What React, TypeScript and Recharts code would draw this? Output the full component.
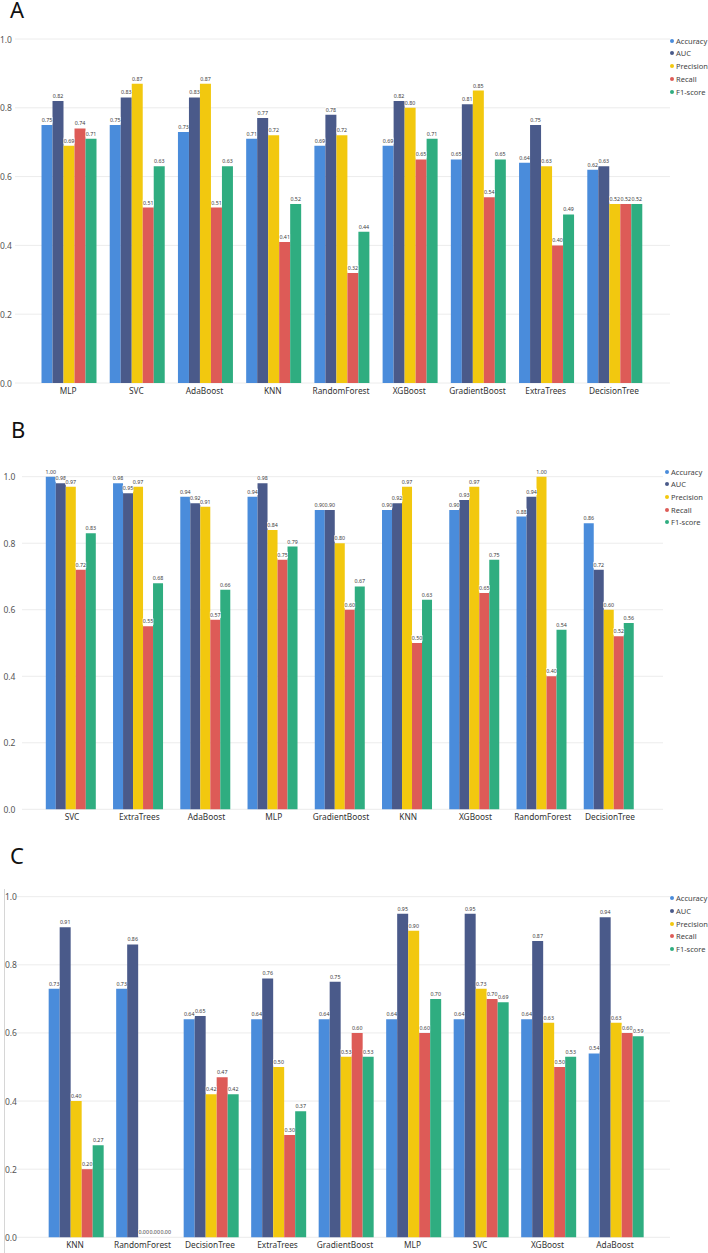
import React from 'react';
import { BarChart, Bar, XAxis, YAxis, CartesianGrid, LabelList } from 'recharts';

const metrics = ['Accuracy', 'AUC', 'Precision', 'Recall', 'F1-score'];
const metricColors = ['#4a8cdb', '#4a5a8a', '#f2c80f', '#dd5b57', '#2fad80'];
const yTicks = [0, 0.2, 0.4, 0.6, 0.8, 1];

// Panel A
const modelsA = ['MLP', 'SVC', 'AdaBoost', 'KNN', 'RandomForest', 'XGBoost', 'GradientBoost', 'ExtraTrees', 'DecisionTree'];
const accuracyA = [0.75, 0.75, 0.73, 0.71, 0.69, 0.69, 0.65, 0.64, 0.62];
const aucA = [0.82, 0.83, 0.83, 0.77, 0.78, 0.82, 0.81, 0.75, 0.63];
const precisionA = [0.69, 0.87, 0.87, 0.72, 0.72, 0.8, 0.85, 0.63, 0.52];
const recallA = [0.74, 0.51, 0.51, 0.41, 0.32, 0.65, 0.54, 0.4, 0.52];
const f1A = [0.71, 0.63, 0.63, 0.52, 0.44, 0.71, 0.65, 0.49, 0.52];

// Panel B
const modelsB = ['SVC', 'ExtraTrees', 'AdaBoost', 'MLP', 'GradientBoost', 'KNN', 'XGBoost', 'RandomForest', 'DecisionTree'];
const accuracyB = [1.0, 0.98, 0.94, 0.94, 0.9, 0.9, 0.9, 0.88, 0.86];
const aucB = [0.98, 0.95, 0.92, 0.98, 0.9, 0.92, 0.93, 0.94, 0.72];
const precisionB = [0.97, 0.97, 0.91, 0.84, 0.8, 0.97, 0.97, 1.0, 0.6];
const recallB = [0.72, 0.55, 0.57, 0.75, 0.6, 0.5, 0.65, 0.4, 0.52];
const f1B = [0.83, 0.68, 0.66, 0.79, 0.67, 0.63, 0.75, 0.54, 0.56];

// Panel C
const modelsC = ['KNN', 'RandomForest', 'DecisionTree', 'ExtraTrees', 'GradientBoost', 'MLP', 'SVC', 'XGBoost', 'AdaBoost'];
const accuracyC = [0.73, 0.73, 0.64, 0.64, 0.64, 0.64, 0.64, 0.64, 0.54];
const aucC = [0.91, 0.86, 0.65, 0.76, 0.75, 0.95, 0.95, 0.87, 0.94];
const precisionC = [0.4, 0.0, 0.42, 0.5, 0.53, 0.9, 0.73, 0.63, 0.63];
const recallC = [0.2, 0.0, 0.47, 0.3, 0.6, 0.6, 0.7, 0.5, 0.6];
const f1C = [0.27, 0.0, 0.42, 0.37, 0.53, 0.7, 0.69, 0.53, 0.59];

const FONT = '"Segoe UI", "Noto Sans", sans-serif';

const toRows = (models: string[], cols: number[][]) =>
  models.map((name, i) => {
    const row: any = { name };
    metrics.forEach((m, k) => {
      row[m] = cols[k][i];
    });
    return row;
  });

// small value text with a white box, sits just above the bar
const ValueLabel = (props: any) => {
  const { x, y, width, height, value } = props;
  if (x == null || y == null) return null;
  const cx = Number(x) + Number(width) / 2;
  // zero-value bars: keep the label on the baseline
  const top = Number(height) < 0 ? Number(y) + Number(height) : Number(y);
  return (
    <g>
      <rect x={cx - 5.4} y={top - 8} width={10.8} height={6.4} fill="#fff" />
      <text x={cx} y={top - 3} textAnchor="middle" fontSize={5.3} fontFamily={FONT} fill="#3c3c3c">
        {Number(value).toFixed(2)}
      </text>
    </g>
  );
};

type PanelProps = {
  letter: string;
  letterX: number;
  letterBase: number;
  rows: any[];
  top: number;
  height: number;
  plotTop: number;
  plotBottom: number;
  plotLeft: number;
  plotRight: number;
  bandLeft: number;
  bandRight: number;
  tickRight: number;
  legendX: number;
  legendY: number;
  legendStep: number;
};

const Panel: React.FC<PanelProps> = (p) => {
  const margin = {
    top: p.plotTop - p.top,
    right: 708 - p.plotRight,
    left: 0,
    bottom: p.height - (p.plotBottom - p.top) - 20,
  };

  const YTick = (props: any) => (
    <text
      x={p.tickRight}
      y={props.y}
      textAnchor="end"
      dominantBaseline="central"
      fontSize={8.5}
      fontFamily={FONT}
      fill="#555"
    >
      {Number(props.payload.value).toFixed(1)}
    </text>
  );

  const XTick = (props: any) => (
    <text
      x={props.x}
      y={p.plotBottom - p.top + 7}
      textAnchor="middle"
      dominantBaseline="central"
      fontSize={8.3}
      fontFamily={FONT}
      fill="#333"
    >
      {props.payload.value}
    </text>
  );

  return (
    <>
      <div
        style={{
          position: 'absolute',
          left: p.letterX,
          top: p.letterBase - 17.9,
          fontSize: 22,
          lineHeight: 0.85,
          fontFamily: FONT,
          color: '#111',
        }}
      >
        {p.letter}
      </div>
      <div style={{ position: 'absolute', left: 0, top: p.top, width: 708, height: p.height }}>
        <BarChart
          width={708}
          height={p.height}
          data={p.rows}
          margin={margin}
          barCategoryGap="11%"
          barGap={0}
        >
          <CartesianGrid vertical={false} stroke="#ececec" />
          <XAxis
            dataKey="name"
            height={20}
            axisLine={false}
            tickLine={false}
            interval={0}
            padding={{ left: p.bandLeft - p.plotLeft, right: p.plotRight - p.bandRight }}
            tick={<XTick />}
          />
          <YAxis
            width={p.plotLeft}
            domain={[0, 1]}
            ticks={yTicks}
            axisLine={false}
            tickLine={false}
            tick={<YTick />}
          />
          {metrics.map((m, k) => (
            <Bar key={m} dataKey={m} fill={metricColors[k]} minPointSize={0.01} isAnimationActive={false}>
              <LabelList dataKey={m} content={<ValueLabel />} />
            </Bar>
          ))}
        </BarChart>
      </div>
      {metrics.map((m, k) => (
        <div
          key={m}
          style={{
            position: 'absolute',
            left: p.legendX - 2,
            top: p.legendY + k * p.legendStep - 6,
            height: 12,
            display: 'flex',
            alignItems: 'center',
            whiteSpace: 'nowrap',
            fontSize: 7.5,
            fontFamily: FONT,
            color: '#444',
          }}
        >
          <span
            style={{
              width: 4,
              height: 4,
              borderRadius: 2,
              background: metricColors[k],
              marginRight: 2,
              display: 'inline-block',
            }}
          />
          {m}
        </div>
      ))}
    </>
  );
};

export default function App() {
  return (
    <div
      style={{
        position: 'fixed',
        left: 0,
        top: 0,
        width: 708,
        height: 1253,
        overflow: 'hidden',
        background: '#fff',
      }}
    >
      <Panel
        letter="A"
        letterX={10}
        letterBase={18}
        rows={toRows(modelsA, [accuracyA, aucA, precisionA, recallA, f1A])}
        top={0}
        height={410}
        plotTop={39}
        plotBottom={383}
        plotLeft={15}
        plotRight={670}
        bandLeft={34}
        bandRight={648}
        tickRight={12}
        legendX={672}
        legendY={40.5}
        legendStep={12.75}
      />
      <Panel
        letter="B"
        letterX={11}
        letterBase={438}
        rows={toRows(modelsB, [accuracyB, aucB, precisionB, recallB, f1B])}
        top={420}
        height={420}
        plotTop={476.7}
        plotBottom={809.3}
        plotLeft={22}
        plotRight={663}
        bandLeft={38.4}
        bandRight={643.6}
        tickRight={15.5}
        legendX={667}
        legendY={471.7}
        legendStep={12.6}
      />
      <div
        style={{ position: 'absolute', left: 4, top: 889, width: 1, height: 364, background: '#d6d6d6' }}
      />
      <Panel
        letter="C"
        letterX={10}
        letterBase={864}
        rows={toRows(modelsC, [accuracyC, aucC, precisionC, recallC, f1C])}
        top={840}
        height={420}
        plotTop={896.7}
        plotBottom={1237.3}
        plotLeft={15}
        plotRight={670}
        bandLeft={41.25}
        bandRight={648.75}
        tickRight={17}
        legendX={672}
        legendY={898}
        legendStep={12.75}
      />
    </div>
  );
}
